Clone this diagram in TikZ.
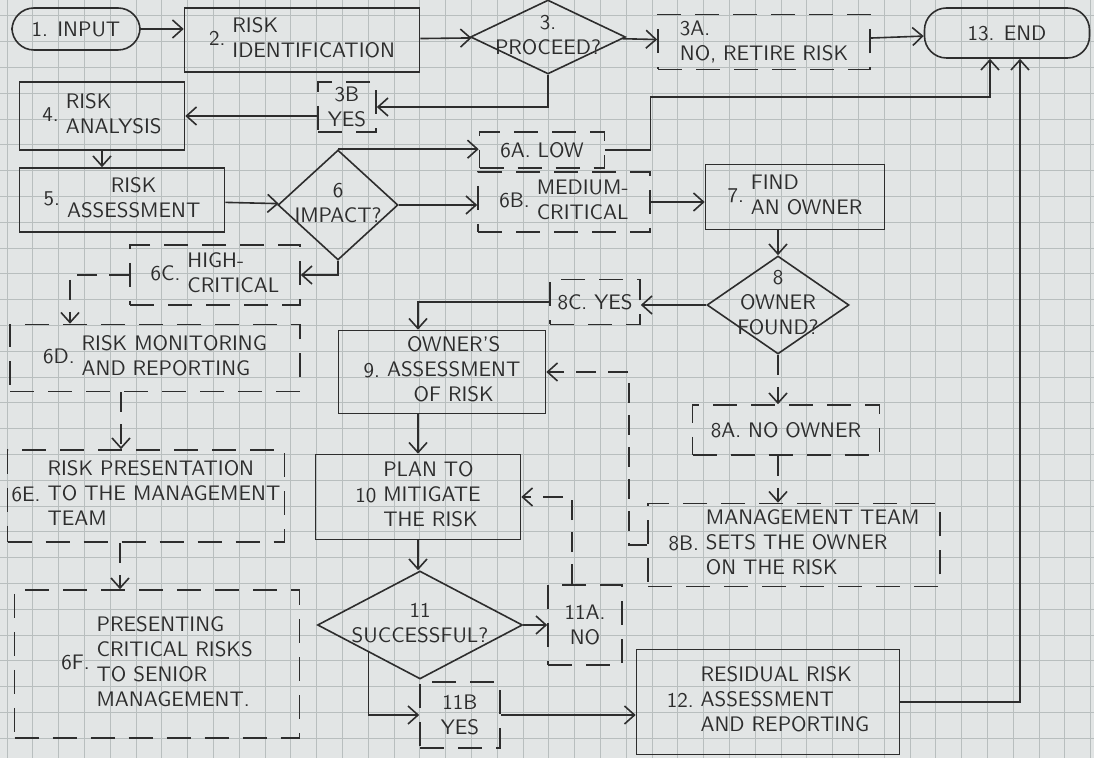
\documentclass[tikz,border=0pt]{standalone}
\usepackage{tikz}
\usetikzlibrary{arrows.meta,positioning,shapes.geometric}
\definecolor{paper}{RGB}{226,229,229}
\definecolor{gridc}{RGB}{184,190,190}
\definecolor{ink}{RGB}{45,45,45}
\newcommand{\numtext}[3][l]{#2\ \begin{tabular}{@{}#1@{}}#3\end{tabular}}
\newcommand{\dtext}[1]{\makebox[0pt]{\begin{tabular}{@{}c@{}}#1\end{tabular}}}
\tikzset{
    every node/.style={font=\sffamily\fontsize{10.5}{12.5}\selectfont, text=ink},
    line/.style={-{Straight Barb[length=5pt,width=9pt]}, line width=0.8pt, draw=ink},
    dline/.style={line, dash pattern=on 10pt off 6pt},
    process/.style={rectangle, draw=ink, line width=0.8pt, align=center, inner sep=2pt},
    outcome/.style={rectangle, draw=ink, line width=0.8pt, dash pattern=on 12pt off 7pt, align=center, inner sep=2pt},
    terminal/.style={rectangle, rounded corners=11pt, draw=ink, line width=0.8pt, inner sep=2pt},
    decision/.style={diamond, draw=ink, line width=0.8pt, aspect=1, inner sep=0pt}
}

\begin{document}
\begin{tikzpicture}[x=0.5pt, y=-0.5pt]

% squared paper
\fill[paper] (0,0) rectangle (1094,758);
\useasboundingbox (0,0) rectangle (1094,758);
\foreach \gx in {0,...,42} \draw[gridc, line width=0.5pt] ({7+25.8*\gx},0) -- ({7+25.8*\gx},758);
\foreach \gy in {0,...,28} \draw[gridc, line width=0.5pt] (0,{16+25.8*\gy}) -- (1094,{16+25.8*\gy});

\node[terminal, minimum width=64pt, minimum height=21pt] (start) at (76,29) {1. INPUT};
\node[process, minimum width=117.5pt, minimum height=32pt] (ident) at (302,40) {\numtext{2.}{RISK\\IDENTIFICATION}};
\node[decision, minimum width=77.5pt, minimum height=37pt] (proceed) at (548,37) {\dtext{3.\\PROCEED?}};
\node[outcome, minimum width=106pt, minimum height=27.5pt, align=left] (retire) at (764,42) {3A.\\NO, RETIRE RISK};
\node[terminal, minimum width=82.5pt, minimum height=25pt] (finish) at (1007,33) {13. END};
\node[outcome, minimum width=29pt, minimum height=25pt] (yesb) at (347,107) {3B\\YES};
\node[process, minimum width=82.5pt, minimum height=34pt] (analysis) at (102,116) {\numtext{4.}{RISK\\ANALYSIS}};
\node[process, minimum width=102.5pt, minimum height=32pt] (assess) at (122,200) {\numtext[c]{5.}{RISK\\ASSESSMENT}};
\node[decision, minimum width=60pt, minimum height=55pt] (impact) at (338,205) {\dtext{6\\IMPACT?}};
\node[outcome, minimum width=62.5pt, minimum height=18pt] (lowa) at (542,150) {6A. LOW};
\node[outcome, minimum width=86pt, minimum height=30pt] (mediumb) at (564,202) {\numtext{6B.}{MEDIUM-\\CRITICAL}};
\node[process, minimum width=89.5pt, minimum height=32.5pt] (findowner) at (795,197) {\numtext{7.}{FIND\\AN OWNER}};
\node[decision, minimum width=71pt, minimum height=49pt] (found) at (778,305) {\dtext{8\\OWNER\\FOUND?}};
\node[outcome, minimum width=45pt, minimum height=22.5pt] (yesc) at (595,302) {8C. YES};
\node[outcome, minimum width=93.5pt, minimum height=25pt] (noowner) at (786,430) {8A. NO OWNER};
\node[outcome, minimum width=146pt, minimum height=40pt] (mgmt) at (794,545) {\numtext{8B.}{MANAGEMENT TEAM\\SETS THE OWNER\\ON THE RISK}};
\node[outcome, minimum width=85pt, minimum height=30pt] (highc) at (215,275) {\numtext{6C.}{HIGH-\\CRITICAL}};
\node[outcome, minimum width=145pt, minimum height=33.5pt] (monitor) at (155,358) {\numtext{6D.}{RISK MONITORING\\AND REPORTING}};
\node[outcome, minimum width=138.5pt, minimum height=46pt] (present) at (146,496) {\numtext{6E.}{RISK PRESENTATION\\TO THE MANAGEMENT\\TEAM}};
\node[outcome, minimum width=142.5pt, minimum height=74pt] (senior) at (157,664) {\numtext{6F.}{PRESENTING\\CRITICAL RISKS\\TO SENIOR\\MANAGEMENT.}};
\node[process, minimum width=103.5pt, minimum height=37.5pt] (ownassess) at (442,372) {\numtext[c]{9.}{OWNER'S\\ASSESSMENT\\OF RISK}};
\node[process, minimum width=102.5pt, minimum height=42.5pt] (plan) at (418,497) {\numtext{10}{PLAN TO\\MITIGATE\\THE RISK}};
\node[decision, minimum width=102.5pt, minimum height=54pt] (success) at (420,625) {\dtext{11\\SUCCESSFUL?}};
\node[outcome, minimum width=37pt, minimum height=40pt] (failno) at (585,625) {11A.\\NO};
\node[outcome, minimum width=40pt, minimum height=33pt] (yesd) at (460,715) {11B\\YES};
\node[process, minimum width=131.5pt, minimum height=52.5pt] (residual) at (768,702) {\numtext{12.}{RESIDUAL RISK\\ASSESSMENT\\AND REPORTING}};

\draw[line] (start) -- (start -| ident.west);
\draw[line] (ident) -- (proceed);
\draw[line] (proceed) -- (retire);
\draw[line] (retire) -- (finish);
\draw[line] (proceed.south) |- (yesb.east);
\draw[line] (yesb.west |- analysis) -- (analysis);
\draw[line] (analysis.south) -- (analysis.south |- assess.north);
\draw[line] (assess) -- (impact);
\draw[line] (impact.north) -- (impact.north -| lowa.west);
\draw[line] (impact.east) -- (impact.east -| mediumb.west);
\draw[line] (lowa.east) -- ++(45,0) -- ++(0,-53) -| ([xshift=-8.5pt]finish.south);
\draw[line] (mediumb.east) -- (mediumb.east -| findowner.west);
\draw[line] (found.north |- findowner.south) -- (found.north);
\draw[line] (found.west) -- (found.west -| yesc.east);
\draw[line] (yesc.west) -| ([xshift=-12pt]ownassess.north);
\draw[dline] (found.south) -- (found.south |- noowner.north);
\draw[dline] (noowner.south -| found) -- (found |- mgmt.north);
\draw[dline] (mgmt.west) -- ++(-18,0) |- (ownassess.east);
\draw[line] (ownassess.south -| plan) -- (plan.north);
\draw[line] (plan.south) -- (plan.south |- success.north);
\draw[line] (success.east) -- (failno.west);
\draw[dline] ([xshift=-6.5pt]failno.north) |- (plan.east);
\draw[line] (success.south west) |- (yesd.west);
\draw[line] (yesd.east) -- (yesd.east -| residual.west);
\draw[line] (residual.east) -| ([xshift=6.5pt]finish.south);

\draw[line] (impact.south) |- (highc.east);
\draw[dline] (highc.west) -| ([xshift=-42.5pt]monitor.north);
\draw[dline] ([xshift=-17pt]monitor.south) -- ([xshift=-17pt]monitor.south |- present.north);
\draw[dline] ([xshift=-13pt]present.south) -- ([xshift=-13pt]present.south |- senior.north);

\end{tikzpicture}
\end{document}
